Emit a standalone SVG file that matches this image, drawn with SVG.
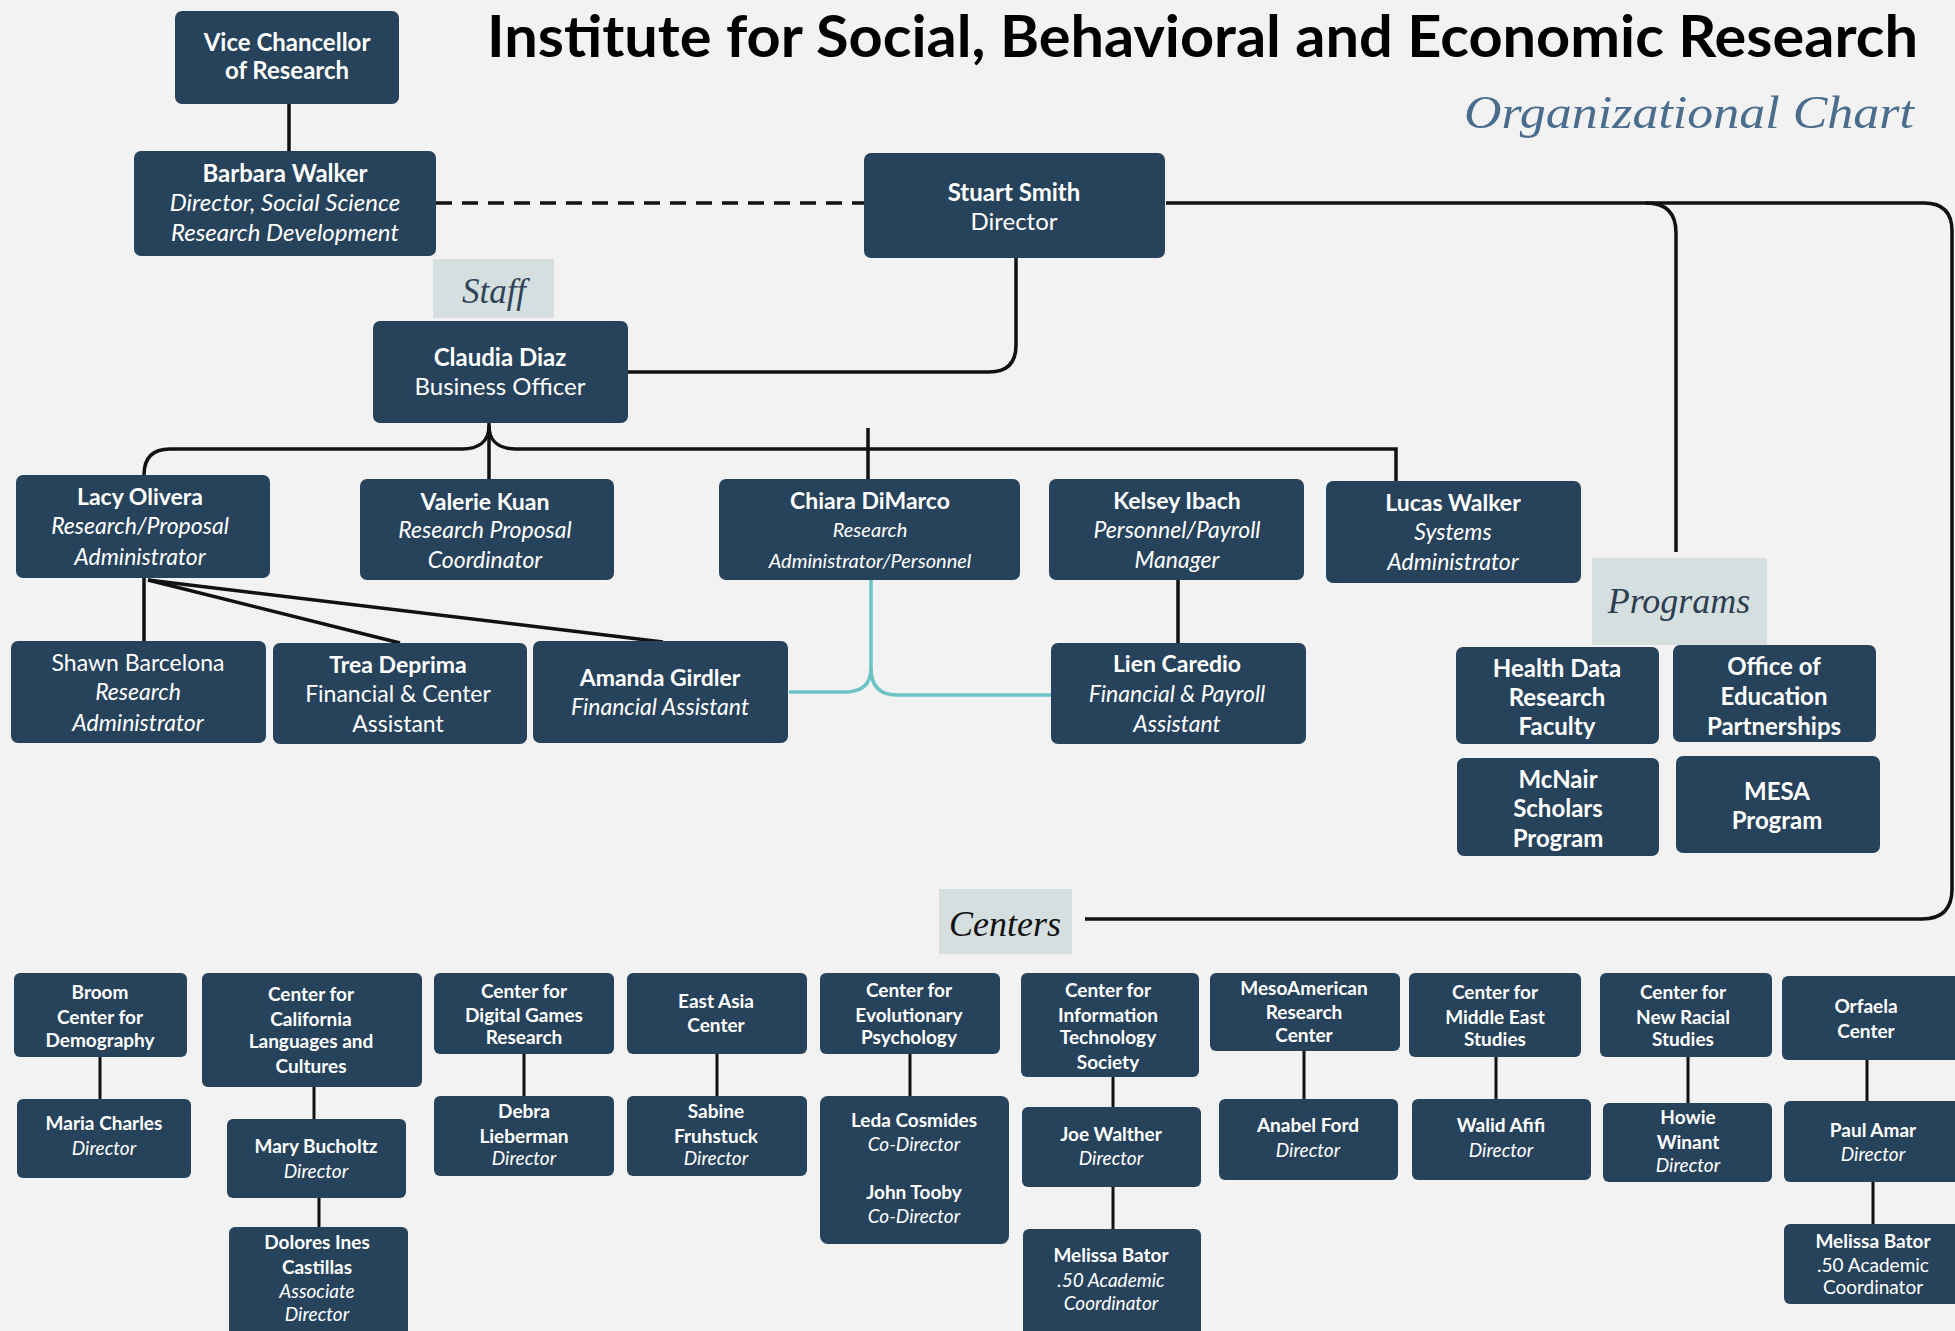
<svg xmlns="http://www.w3.org/2000/svg" width="1955" height="1331" viewBox="0 0 1955 1331">
<style>
.n{fill:#27435b}
.lab{fill:#d6dfdf}
.t{font-family:Lato,'Open Sans','Liberation Sans',sans-serif;fill:#ffffff;text-anchor:middle}
.b{font-weight:700}
.i{font-style:italic}
.s24{font-size:24px}
.s23{font-size:23px}
.s19{font-size:19px}
.s20{font-size:20px}
.c{stroke:#111;stroke-width:3.5;fill:none}
.cc{stroke:#111;stroke-width:3;fill:none}
.tl{stroke:#6cc3c5;stroke-width:3.5;fill:none}
.lt{font-family:'Liberation Serif','DejaVu Serif',serif;font-style:italic;text-anchor:middle}
</style>
<rect width="1955" height="1331" fill="#f2f2f2"/>
<text x="487" y="57" font-family="Lato,'Open Sans',sans-serif" font-weight="700" font-size="57" fill="#000" textLength="1431" lengthAdjust="spacingAndGlyphs">Institute for Social, Behavioral and Economic Research</text>
<text x="1914" y="128" font-family="'Liberation Serif','DejaVu Serif',serif" font-style="italic" font-size="47" fill="#4a6d8e" text-anchor="end" textLength="450" lengthAdjust="spacingAndGlyphs">Organizational Chart</text>

<g id="connectors">
<path class="c" d="M289 104V151"/>
<path class="c" d="M436 203H864" stroke-dasharray="16 10"/>
<path class="c" d="M1016 258V345Q1016 372 989 372H628"/>
<path class="c" d="M1166 203H1924Q1952 203 1952 231V889Q1952 919 1922 919H1085"/>
<path class="c" d="M1646 203Q1676 203 1676 233V552"/>
<path class="c" d="M489 423V479"/>
<path class="c" d="M489 426C489 442 478 449 462 449H170Q144 449 144 475"/>
<path class="c" d="M489 426C489 442 500 449 516 449H1396V481"/>
<path class="c" d="M868 428V479"/>
<path class="c" d="M144 578V641"/>
<path class="c" d="M148 580L400 643"/>
<path class="c" d="M148 580L663 642"/>
<path class="c" d="M1178 580V643"/>
<path class="tl" d="M871 580V668Q871 692 845 692H789"/>
<path class="tl" d="M871 668Q871 695 897 695H1051"/>
<path class="cc" d="M100 1057V1099M314 1087V1119M319 1198V1227M524 1054V1096M717 1054V1096M910 1054V1096M1113 1077V1107M1113 1187V1229M1304 1051V1099M1496 1057V1099M1688 1057V1103M1867 1060V1101M1873 1182V1224"/>
</g>

<g id="vice-chancellor"><rect class="n" x="175" y="11" width="224" height="93" rx="7"/>
<text class="t b s24"><tspan x="287" y="51">Vice Chancellor</tspan><tspan x="287" y="79">of Research</tspan></text></g>
<g id="barbara-walker"><rect class="n" x="134" y="151" width="302" height="105" rx="7"/>
<text class="t s24"><tspan class="b" x="285" y="182">Barbara Walker</tspan><tspan class="i" x="285" y="211">Director, Social Science</tspan><tspan class="i" x="285" y="241">Research Development</tspan></text></g>
<g id="stuart-smith"><rect class="n" x="864" y="153" width="301" height="105" rx="7"/>
<text class="t s24"><tspan class="b" x="1014" y="201">Stuart Smith</tspan><tspan x="1014" y="230">Director</tspan></text></g>
<g id="staff-label"><rect class="lab" x="433" y="259" width="121" height="59"/>
<text class="lt" x="494" y="303" font-size="35" fill="#2f4457">Staff</text></g>
<g id="claudia-diaz"><rect class="n" x="373" y="321" width="255" height="102" rx="7"/>
<text class="t s24"><tspan class="b" x="500" y="366">Claudia Diaz</tspan><tspan x="500" y="395">Business Officer</tspan></text></g>

<g id="lacy-olivera"><rect class="n" x="16" y="475" width="254" height="103" rx="7"/>
<text class="t s23"><tspan class="b" x="140" y="505">Lacy Olivera</tspan><tspan class="i" x="140" y="534">Research/Proposal</tspan><tspan class="i" x="140" y="565">Administrator</tspan></text></g>
<g id="valerie-kuan"><rect class="n" x="360" y="479" width="254" height="101" rx="7"/>
<text class="t s23"><tspan class="b" x="485" y="510">Valerie Kuan</tspan><tspan class="i" x="485" y="538">Research Proposal</tspan><tspan class="i" x="485" y="568">Coordinator</tspan></text></g>
<g id="chiara-dimarco"><rect class="n" x="719" y="479" width="301" height="101" rx="7"/>
<text class="t s23"><tspan class="b" x="870" y="509">Chiara DiMarco</tspan><tspan class="i s20" x="870" y="537">Research</tspan><tspan class="i s20" x="870" y="568">Administrator/Personnel</tspan></text></g>
<g id="kelsey-ibach"><rect class="n" x="1049" y="479" width="255" height="101" rx="7"/>
<text class="t s23"><tspan class="b" x="1177" y="509">Kelsey Ibach</tspan><tspan class="i" x="1177" y="538">Personnel/Payroll</tspan><tspan class="i" x="1177" y="568">Manager</tspan></text></g>
<g id="lucas-walker"><rect class="n" x="1326" y="481" width="255" height="102" rx="7"/>
<text class="t s23"><tspan class="b" x="1453" y="511">Lucas Walker</tspan><tspan class="i" x="1453" y="540">Systems</tspan><tspan class="i" x="1453" y="570">Administrator</tspan></text></g>

<g id="shawn-barcelona"><rect class="n" x="11" y="641" width="255" height="102" rx="7"/>
<text class="t s23"><tspan x="138" y="671">Shawn Barcelona</tspan><tspan class="i" x="138" y="700">Research</tspan><tspan class="i" x="138" y="731">Administrator</tspan></text></g>
<g id="trea-deprima"><rect class="n" x="273" y="643" width="254" height="101" rx="7"/>
<text class="t s23"><tspan class="b" x="398" y="673">Trea Deprima</tspan><tspan x="398" y="702">Financial &amp; Center</tspan><tspan x="398" y="732">Assistant</tspan></text></g>
<g id="amanda-girdler"><rect class="n" x="533" y="641" width="255" height="102" rx="7"/>
<text class="t s23"><tspan class="b" x="660" y="686">Amanda Girdler</tspan><tspan class="i" x="660" y="715">Financial Assistant</tspan></text></g>
<g id="lien-caredio"><rect class="n" x="1051" y="643" width="255" height="101" rx="7"/>
<text class="t s23"><tspan class="b" x="1177" y="672">Lien Caredio</tspan><tspan class="i" x="1177" y="702">Financial &amp; Payroll</tspan><tspan class="i" x="1177" y="732">Assistant</tspan></text></g>

<g id="programs-label"><rect class="lab" x="1592" y="558" width="175" height="87"/>
<text class="lt" x="1679" y="613" font-size="36" fill="#2c3e50">Programs</text></g>
<g id="health-data"><rect class="n" x="1456" y="647" width="203" height="97" rx="7"/>
<text class="t b s24"><tspan x="1557" y="677">Health Data</tspan><tspan x="1557" y="706">Research</tspan><tspan x="1557" y="735">Faculty</tspan></text></g>
<g id="office-education"><rect class="n" x="1673" y="645" width="203" height="97" rx="7"/>
<text class="t b s24"><tspan x="1774" y="675">Office of</tspan><tspan x="1774" y="705">Education</tspan><tspan x="1774" y="735">Partnerships</tspan></text></g>
<g id="mcnair"><rect class="n" x="1457" y="758" width="202" height="98" rx="7"/>
<text class="t b s24"><tspan x="1558" y="788">McNair</tspan><tspan x="1558" y="817">Scholars</tspan><tspan x="1558" y="847">Program</tspan></text></g>
<g id="mesa"><rect class="n" x="1676" y="756" width="204" height="97" rx="7"/>
<text class="t b s24"><tspan x="1777" y="800">MESA</tspan><tspan x="1777" y="829">Program</tspan></text></g>

<g id="centers-label"><rect class="lab" x="939" y="889" width="133" height="65"/>
<text class="lt" x="1005" y="936" font-size="36" fill="#111">Centers</text></g>

<g id="broom"><rect class="n" x="14" y="973" width="173" height="84" rx="6"/>
<text class="t b s19"><tspan x="100" y="999">Broom</tspan><tspan x="100" y="1024">Center for</tspan><tspan x="100" y="1047">Demography</tspan></text></g>
<g id="maria-charles"><rect class="n" x="17" y="1099" width="174" height="79" rx="6"/>
<text class="t s19"><tspan class="b" x="104" y="1130">Maria Charles</tspan><tspan class="i" x="104" y="1155">Director</tspan></text></g>
<g id="california"><rect class="n" x="202" y="973" width="220" height="114" rx="6"/>
<text class="t b s19"><tspan x="311" y="1001">Center for</tspan><tspan x="311" y="1026">California</tspan><tspan x="311" y="1048">Languages and</tspan><tspan x="311" y="1073">Cultures</tspan></text></g>
<g id="mary-bucholtz"><rect class="n" x="227" y="1119" width="179" height="79" rx="6"/>
<text class="t s19"><tspan class="b" x="316" y="1153">Mary Bucholtz</tspan><tspan class="i" x="316" y="1178">Director</tspan></text></g>
<g id="dolores-castillas"><rect class="n" x="229" y="1227" width="179" height="112" rx="6"/>
<text class="t s19"><tspan class="b" x="317" y="1249">Dolores Ines</tspan><tspan class="b" x="317" y="1274">Castillas</tspan><tspan class="i" x="317" y="1298">Associate</tspan><tspan class="i" x="317" y="1321">Director</tspan></text></g>
<g id="digital-games"><rect class="n" x="434" y="973" width="180" height="81" rx="6"/>
<text class="t b s19"><tspan x="524" y="998">Center for</tspan><tspan x="524" y="1022">Digital Games</tspan><tspan x="524" y="1044">Research</tspan></text></g>
<g id="debra-lieberman"><rect class="n" x="434" y="1096" width="180" height="80" rx="6"/>
<text class="t s19"><tspan class="b" x="524" y="1118">Debra</tspan><tspan class="b" x="524" y="1143">Lieberman</tspan><tspan class="i" x="524" y="1165">Director</tspan></text></g>
<g id="east-asia"><rect class="n" x="627" y="973" width="180" height="81" rx="6"/>
<text class="t b s19"><tspan x="716" y="1008">East Asia</tspan><tspan x="716" y="1032">Center</tspan></text></g>
<g id="sabine-fruhstuck"><rect class="n" x="627" y="1096" width="180" height="80" rx="6"/>
<text class="t s19"><tspan class="b" x="716" y="1118">Sabine</tspan><tspan class="b" x="716" y="1143">Fruhstuck</tspan><tspan class="i" x="716" y="1165">Director</tspan></text></g>
<g id="evolutionary"><rect class="n" x="820" y="973" width="180" height="81" rx="6"/>
<text class="t b s19"><tspan x="909" y="997">Center for</tspan><tspan x="909" y="1022">Evolutionary</tspan><tspan x="909" y="1044">Psychology</tspan></text></g>
<g id="cosmides-tooby"><rect class="n" x="820" y="1096" width="189" height="148" rx="8"/>
<text class="t s19"><tspan class="b" x="914" y="1127">Leda Cosmides</tspan><tspan class="i" x="914" y="1151">Co-Director</tspan><tspan class="b" x="914" y="1199">John Tooby</tspan><tspan class="i" x="914" y="1223">Co-Director</tspan></text></g>
<g id="information-technology"><rect class="n" x="1021" y="973" width="178" height="104" rx="6"/>
<text class="t b s19"><tspan x="1108" y="997">Center for</tspan><tspan x="1108" y="1022">Information</tspan><tspan x="1108" y="1044">Technology</tspan><tspan x="1108" y="1069">Society</tspan></text></g>
<g id="joe-walther"><rect class="n" x="1022" y="1107" width="179" height="80" rx="6"/>
<text class="t s19"><tspan class="b" x="1111" y="1141">Joe Walther</tspan><tspan class="i" x="1111" y="1165">Director</tspan></text></g>
<g id="melissa-bator-1"><rect class="n" x="1023" y="1229" width="178" height="110" rx="6"/>
<text class="t s19"><tspan class="b" x="1111" y="1262">Melissa Bator</tspan><tspan class="i" x="1111" y="1287">.50 Academic</tspan><tspan class="i" x="1111" y="1310">Coordinator</tspan></text></g>
<g id="mesoamerican"><rect class="n" x="1210" y="973" width="190" height="78" rx="6"/>
<text class="t b s19"><tspan x="1304" y="995">MesoAmerican</tspan><tspan x="1304" y="1019">Research</tspan><tspan x="1304" y="1042">Center</tspan></text></g>
<g id="anabel-ford"><rect class="n" x="1219" y="1099" width="179" height="81" rx="6"/>
<text class="t s19"><tspan class="b" x="1308" y="1132">Anabel Ford</tspan><tspan class="i" x="1308" y="1157">Director</tspan></text></g>
<g id="middle-east"><rect class="n" x="1409" y="973" width="172" height="84" rx="6"/>
<text class="t b s19"><tspan x="1495" y="999">Center for</tspan><tspan x="1495" y="1024">Middle East</tspan><tspan x="1495" y="1046">Studies</tspan></text></g>
<g id="walid-afifi"><rect class="n" x="1412" y="1099" width="179" height="81" rx="6"/>
<text class="t s19"><tspan class="b" x="1501" y="1132">Walid Afifi</tspan><tspan class="i" x="1501" y="1157">Director</tspan></text></g>
<g id="new-racial"><rect class="n" x="1600" y="973" width="172" height="84" rx="6"/>
<text class="t b s19"><tspan x="1683" y="999">Center for</tspan><tspan x="1683" y="1024">New Racial</tspan><tspan x="1683" y="1046">Studies</tspan></text></g>
<g id="howie-winant"><rect class="n" x="1603" y="1103" width="169" height="79" rx="6"/>
<text class="t s19"><tspan class="b" x="1688" y="1124">Howie</tspan><tspan class="b" x="1688" y="1149">Winant</tspan><tspan class="i" x="1688" y="1172">Director</tspan></text></g>
<g id="orfaela"><rect class="n" x="1782" y="976" width="178" height="84" rx="6"/>
<text class="t b s19"><tspan x="1866" y="1013">Orfaela</tspan><tspan x="1866" y="1038">Center</tspan></text></g>
<g id="paul-amar"><rect class="n" x="1784" y="1101" width="176" height="81" rx="6"/>
<text class="t s19"><tspan class="b" x="1873" y="1137">Paul Amar</tspan><tspan class="i" x="1873" y="1161">Director</tspan></text></g>
<g id="melissa-bator-2"><rect class="n" x="1784" y="1224" width="176" height="80" rx="6"/>
<text class="t s19"><tspan class="b" x="1873" y="1248">Melissa Bator</tspan><tspan x="1873" y="1272">.50 Academic</tspan><tspan x="1873" y="1294">Coordinator</tspan></text></g>
</svg>
